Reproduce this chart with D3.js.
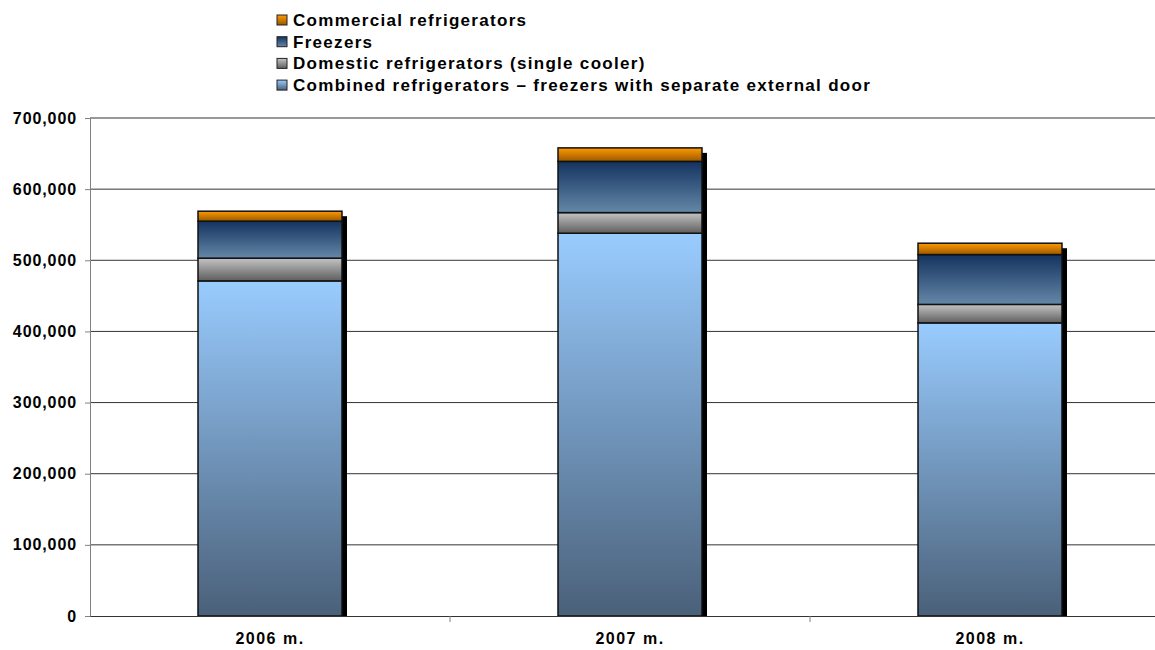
<!DOCTYPE html>
<html>
<head>
<title>Refrigerators</title>
<script type="text/javascript" src="https://d3js.org/d3.v7.min.js"></script>
<style>
  body { margin: 0; background: #fff; }
  text { font-family: "Liberation Sans", Arial, sans-serif; font-weight: bold; }
</style>
</head>
<body>
<svg id="chart" width="1155" height="650"></svg>
<script type="text/javascript">

const years = ["2006 m.", "2007 m.", "2008 m."];
const combined = [471000, 538000, 412000];
const domestic = [32000, 29000, 26000];
const freezers = [52000, 72000, 70000];
const commercial = [14000, 19000, 16000];
const seriesNames = ["Combined refrigerators \u2013 freezers with separate external door",
                     "Domestic refrigerators (single cooler)", "Freezers", "Commercial refrigerators"];
const yTicks = [0, 100000, 200000, 300000, 400000, 500000, 600000, 700000];

const margin = {top: 118, left: 90, bottom: 34};
const width = 1080, height = 616 - margin.top;

const svg = d3.select("#chart");

// gradients, top colour -> bottom colour
const grads = [
  ["g0", "#99ccff", "#4a6079"],
  ["g1", "#c4c4c4", "#5e5e5e"],
  ["g2", "#14325f", "#6488a8"],
  ["g3", "#ff9a00", "#9a5800"]
];
const defs = svg.append("defs");
grads.forEach(g => {
  const lg = defs.append("linearGradient").attr("id", g[0])
    .attr("x1", 0).attr("y1", 0).attr("x2", 0).attr("y2", 1);
  lg.append("stop").attr("offset", "0%").attr("stop-color", g[1]);
  lg.append("stop").attr("offset", "100%").attr("stop-color", g[2]);
});

const data = years.map((y, i) => ({year: y, s0: combined[i], s1: domestic[i], s2: freezers[i], s3: commercial[i]}));
const keys = ["s0", "s1", "s2", "s3"];
const stacked = d3.stack().keys(keys)(data);

const x = d3.scaleBand().domain(years).range([margin.left, margin.left + width]);
const y = d3.scaleLinear().domain([0, 700000]).range([margin.top + height, margin.top]);

const barW = x.bandwidth() * 0.4;

// gridlines
svg.append("g").selectAll("line")
  .data(yTicks.slice(1))
  .join("line")
  .attr("x1", margin.left).attr("x2", margin.left + width)
  .attr("y1", d => y(d)).attr("y2", d => y(d))
  .attr("stroke", "#333")
  .attr("stroke-width", 1);

// shadows
const totals = data.map(d => d.s0 + d.s1 + d.s2 + d.s3);
svg.append("g").selectAll("rect")
  .data(data)
  .join("rect")
  .attr("x", d => x(d.year) + (x.bandwidth() - barW) / 2 + 5)
  .attr("y", (d, i) => y(totals[i]) + 5)
  .attr("width", barW)
  .attr("height", (d, i) => y(0) - y(totals[i]) - 5)
  .attr("fill", "#000");

// bars
stacked.forEach((layer, li) => {
  svg.append("g").selectAll("rect")
    .data(layer)
    .join("rect")
    .attr("x", d => x(d.data.year) + (x.bandwidth() - barW) / 2)
    .attr("y", d => y(d[1]))
    .attr("width", barW)
    .attr("height", d => y(d[0]) - y(d[1]))
    .attr("fill", "url(#" + grads[li][0] + ")")
    .attr("stroke", "#111")
    .attr("stroke-width", 1.5);
});

// y axis
const yAxis = d3.axisLeft(y).tickValues(yTicks).tickSize(5).tickPadding(8)
  .tickFormat(d3.format(","));
const ya = svg.append("g").attr("transform", "translate(" + margin.left + ",0)").call(yAxis);
ya.select(".domain").attr("stroke", "#808080");
ya.selectAll(".tick line").attr("stroke", "#808080");
ya.selectAll("text").attr("font-size", 16).attr("fill", "#000")
  .style("font-family", "'Liberation Sans', Arial, sans-serif").style("font-weight", "bold")
  .style("letter-spacing", "0.9px");

// x axis
const xAxis = d3.axisBottom(x).tickSize(0).tickPadding(17);
const xa = svg.append("g").attr("transform", "translate(0," + y(0) + ")").call(xAxis);
xa.select(".domain").attr("stroke", "#333");
xa.selectAll("text").attr("font-size", 16).attr("fill", "#000")
  .style("font-family", "'Liberation Sans', Arial, sans-serif").style("font-weight", "bold")
  .style("letter-spacing", "1.5px");
// category separators
svg.append("g").selectAll("line")
  .data(years.slice(1))
  .join("line")
  .attr("x1", d => x(d)).attr("x2", d => x(d))
  .attr("y1", y(0)).attr("y2", y(0) + 6)
  .attr("stroke", "#808080");

// legend (reverse order)
const legendOrder = [3, 2, 1, 0];
const lg = svg.append("g").attr("transform", "translate(277,15)");
legendOrder.forEach((si, row) => {
  const g = lg.append("g").attr("transform", "translate(0," + row * 21.7 + ")");
  g.append("rect").attr("x", 0).attr("y", 0).attr("width", 10).attr("height", 10)
    .attr("fill", "url(#" + grads[si][0] + ")").attr("stroke", "#222").attr("stroke-width", 1);
  g.append("text").attr("x", 16).attr("y", 11).attr("font-size", 17)
    .style("letter-spacing", "1.3px")
    .text(seriesNames[si]);
});

</script>
</body>
</html>
